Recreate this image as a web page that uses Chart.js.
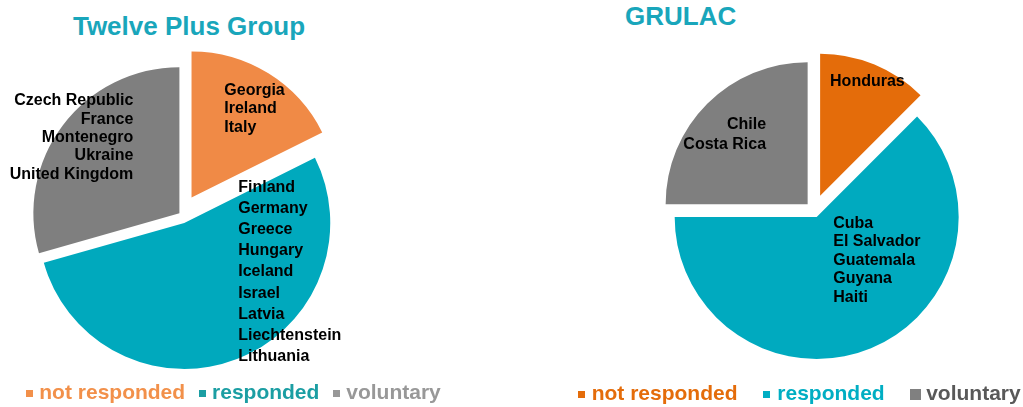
<!DOCTYPE html>
<html>
<head>
<meta charset="utf-8">
<title>Twelve Plus Group / GRULAC</title>
<script src="https://cdn.jsdelivr.net/npm/chart.js@4/dist/chart.umd.min.js"></script>
<style>
  body { margin: 0; background: #fff; }
  #page { position: relative; width: 1023px; height: 407px; overflow: hidden;
          font-family: "Liberation Sans", Arial, sans-serif; font-weight: bold; }
  .title { position: absolute; font-size: 26px; line-height: 26px; color: #19A6BB; white-space: nowrap; }
  .legend { position: absolute; font-size: 21px; line-height: 21px; white-space: nowrap; }
  .legend .item { display: inline-block; }
  .legend .box { display: inline-block; vertical-align: middle; }
  canvas { position: absolute; }
</style>
</head>
<body>
<div id="page">
  <div class="title" id="title-left" style="left:0; width:378px; text-align:center; top:13px;"></div>
  <div class="title" id="title-right" style="left:625px; top:3px;"></div>
  <canvas id="chart-left" width="360" height="349" style="left:1px; top:40px;"></canvas>
  <canvas id="chart-right" width="340" height="341" style="left:644px; top:40px;"></canvas>
  <div class="legend" id="legend-left" style="left:26px; top:381px;"></div>
  <div class="legend" id="legend-right" style="left:578px; top:382px;"></div>
</div>
<script>
// Datos de las dos graficas
var categories = ['not responded', 'responded', 'voluntary'];

var twelvePlusTitle = 'Twelve Plus Group';
var twelvePlusValues = [3, 9, 5];
var twelvePlusCountries = [
    ['Georgia', 'Ireland', 'Italy'],
    ['Finland', 'Germany', 'Greece', 'Hungary', 'Iceland', 'Israel', 'Latvia', 'Liechtenstein', 'Lithuania'],
    ['Czech Republic', 'France', 'Montenegro', 'Ukraine', 'United Kingdom']
];

var grulacTitle = 'GRULAC';
var grulacValues = [1, 5, 2];
var grulacCountries = [
    ['Honduras'],
    ['Cuba', 'El Salvador', 'Guatemala', 'Guyana', 'Haiti'],
    ['Chile', 'Costa Rica']
];

// Colores
var twelvePlusColors = ['#F08A46', '#00A9BD', '#7F7F7F'];
var twelvePlusLegendText = ['#F2904A', '#1B9EA3', '#989898'];
var twelvePlusLegendBox = ['#F2904A', '#1B9EA3', '#989898'];

var grulacColors = ['#E46C0A', '#00AABF', '#7F7F7F'];
var grulacLegendText = ['#E46C0A', '#00AEC3', '#595959'];
var grulacLegendBox = ['#E46C0A', '#00AEC3', '#808080'];

// Separa cada sector del centro (en pixeles) a lo largo de su angulo medio
function makeExplodePlugin(distances) {
    return {
        id: 'explode',
        afterDatasetUpdate: function (chart, args) {
            args.meta.data.forEach(function (arc, i) {
                var mid = (arc.startAngle + arc.endAngle) / 2;
                arc.x += Math.cos(mid) * distances[i];
                arc.y += Math.sin(mid) * distances[i];
            });
        }
    };
}

// Escribe los nombres de los paises dentro de cada sector
function makeLabelPlugin(lines, places) {
    return {
        id: 'countryLabels',
        afterDatasetsDraw: function (chart) {
            var ctx = chart.ctx;
            var meta = chart.getDatasetMeta(0);
            ctx.save();
            ctx.font = 'bold 16px "Liberation Sans", Arial, sans-serif';
            ctx.fillStyle = '#000000';
            ctx.textBaseline = 'middle';
            meta.data.forEach(function (arc, i) {
                var place = places[i];
                var names = lines[i];
                var angle = arc.startAngle + place.frac * (arc.endAngle - arc.startAngle);
                var px = arc.x + Math.cos(angle) * place.r * arc.outerRadius;
                var py = arc.y + Math.sin(angle) * place.r * arc.outerRadius;
                ctx.textAlign = place.align;
                names.forEach(function (name, k) {
                    ctx.fillText(name, px, py + (k - (names.length - 1) / 2) * place.lineHeight);
                });
            });
            ctx.restore();
        }
    };
}

function makePie(canvasId, values, colors, radius, explode, lines, places) {
    var ctx = document.getElementById(canvasId).getContext('2d');
    return new Chart(ctx, {
        type: 'pie',
        data: {
            labels: categories,
            datasets: [{
                data: values,
                backgroundColor: colors,
                borderWidth: 0
            }]
        },
        options: {
            responsive: false,
            animation: false,
            events: [],
            radius: radius,
            layout: { padding: 0 },
            plugins: {
                legend: { display: false },
                tooltip: { enabled: false },
                title: { display: false }
            }
        },
        plugins: [makeExplodePlugin(explode), makeLabelPlugin(lines, places)]
    });
}

// Leyenda en HTML a partir de las etiquetas de la grafica
function buildLegend(chart, elId, textColors, boxColors, boxSizes, boxGaps, itemGap) {
    var el = document.getElementById(elId);
    chart.data.labels.forEach(function (label, i) {
        var item = document.createElement('span');
        item.className = 'item';
        if (i < chart.data.labels.length - 1) {
            item.style.marginRight = itemGap + 'px';
        }
        var box = document.createElement('span');
        box.className = 'box';
        box.style.width = boxSizes[i] + 'px';
        box.style.height = boxSizes[i] + 'px';
        box.style.background = boxColors[i];
        box.style.marginRight = boxGaps[i] + 'px';
        var text = document.createElement('span');
        text.textContent = label;
        text.style.color = textColors[i];
        item.appendChild(box);
        item.appendChild(text);
        el.appendChild(item);
    });
}

document.getElementById('title-left').textContent = twelvePlusTitle;
document.getElementById('title-right').textContent = grulacTitle;

var leftChart = makePie('chart-left', twelvePlusValues, twelvePlusColors, 146, [20, 9, 2],
    twelvePlusCountries, [
        { frac: 0.32, r: 0.646, align: 'left', lineHeight: 18.3 },
        { frac: 0.361, r: 0.50, align: 'left', lineHeight: 21.2 },
        { frac: 0.704, r: 0.607, align: 'right', lineHeight: 18.3 }
    ]);

var rightChart = makePie('chart-right', grulacValues, grulacColors, 142, [16, 7, 9],
    grulacCountries, [
        { frac: 0.11, r: 0.81, align: 'left', lineHeight: 18 },
        { frac: 0.507, r: 0.327, align: 'left', lineHeight: 18.5 },
        { frac: 0.657, r: 0.571, align: 'right', lineHeight: 20 }
    ]);

buildLegend(leftChart, 'legend-left', twelvePlusLegendText, twelvePlusLegendBox, [7, 7, 7], [6.3, 6.3, 6.3], 13.6);
buildLegend(rightChart, 'legend-right', grulacLegendText, grulacLegendBox, [7, 7, 11], [6.7, 7.3, 5], 25.5);
</script>
</body>
</html>
